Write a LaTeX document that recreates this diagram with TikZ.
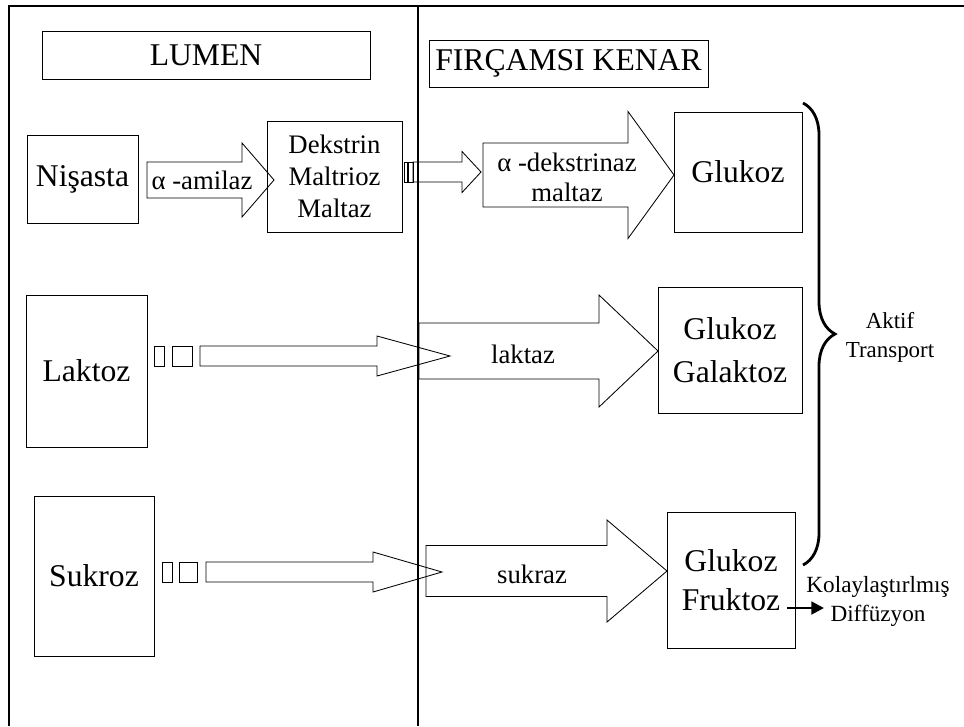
\documentclass[tikz,border=0pt]{standalone}
\usepackage{fontspec}
\setmainfont{Liberation Serif}
\usetikzlibrary{decorations.pathreplacing,arrows.meta}
\def\bigf{\fontsize{22.5}{28}\selectfont}
\def\midf{\fontsize{19}{22.7}\selectfont}
\def\smallf{\fontsize{16.3}{20.6}\selectfont}
% block arrow: x start, y centre, x head, x tip, shaft half, head half
\newcommand\blk[6]{\draw[thinline] (#1,#2-#5) -- (#3,#2-#5) -- (#3,#2-#6) -- (#4,#2)
  -- (#3,#2+#6) -- (#3,#2+#5) -- (#1,#2+#5) -- cycle;}
\newcommand\pill[4]{\draw[thinline] (#1,#2) rectangle (#3,#4);}
\tikzset{
  thinline/.style={line width=0.6pt},
  wall/.style={line width=1.4pt},
  box/.style={draw, thinline, inner sep=0pt, align=center},
  sz/.style 2 args={minimum width=#1*0.025cm, minimum height=#2*0.025cm},
}
\begin{document}
\begin{tikzpicture}[x=0.025cm, y=-0.025cm]
\useasboundingbox (0,0) rectangle (964,726);
% frame and wall
\draw[wall] (9,726) -- (9,6) -- (964,6);
\draw[wall] (418,6) -- (418,726);
\node[box, sz={328}{48}, font=\bigf] (lumen) at (206,55) {LUMEN};
\node[box, sz={279}{47}, font=\bigf] (kenar) at (568.5,63.5) {FIRÇAMSI KENAR};
% nisasta
\node[box, sz={111}{88}, font=\bigf] (nisasta) at (82.5,179) {Nişasta};
\blk{147}{180}{242}{274}{18}{37}
\node[font=\midf] (amilaz) at (202,180) {α -amilaz};
\node[box, sz={135}{111}, font=\midf] (dekstrin) at (334.5,176.5) {Dekstrin\\Maltrioz\\Maltaz};
\pill{404}{162}{407.5}{182} \pill{408.5}{162}{413}{182}
\blk{413}{172}{462}{481}{10}{20.5}
\blk{483}{175}{628}{674}{32}{63.5}
\node[font=\fontsize{19}{21.3}\selectfont, align=center] (dekstrinaz) at (567,177) {α -dekstrinaz\\maltaz};
\node[box, sz={128}{120}, font=\bigf] (glukoz) at (738,172) {Glukoz};
% laktoz
\node[box, sz={121}{152}, font=\bigf] (laktoz) at (86.5,371) {Laktoz};
\pill{154}{346}{164}{366} \pill{172}{346}{192}{366}
\blk{200}{356}{377}{450}{10}{20}
\blk{419}{351}{599}{658}{28}{56}
\node[font=\midf] (laktaz) at (523,354) {laktaz};
\node[box, sz={144}{126}, font=\fontsize{22.5}{31}\selectfont] (glugal) at (730,350) {Glukoz\\Galaktoz};
% sukroz
\node[box, sz={120}{160}, font=\bigf] (sukroz) at (94,576) {Sukroz};
\pill{162}{562}{172}{582} \pill{179}{562}{197}{582}
\blk{206}{572}{373}{442}{10}{20}
\blk{426}{571}{607}{667}{25.5}{51}
\node[font=\midf] (sukraz) at (532,574) {sukraz};
\node[box, sz={128}{136}, font=\fontsize{22.5}{27.7}\selectfont] (glufru) at (731,580) {Glukoz\\Fruktoz};
% transport
\draw[decorate, decoration={brace, amplitude=0.8cm}, line width=2pt] (803,103) -- (803,565);
\node[font=\smallf, align=center] (aktif) at (890,337) {Aktif\\Transport};
\node[font=\fontsize{16.5}{20.6}\selectfont, align=center] (kolay) at (878,601.5) {Kolaylaştırlmış\\Diffüzyon};
\coordinate (kd0) at (787,608);
\coordinate (kd1) at (824,608);
\draw[line width=2pt, -{Triangle[length=9pt,width=9pt]}] (kd0) -- (kd1);
\end{tikzpicture}
\end{document}
